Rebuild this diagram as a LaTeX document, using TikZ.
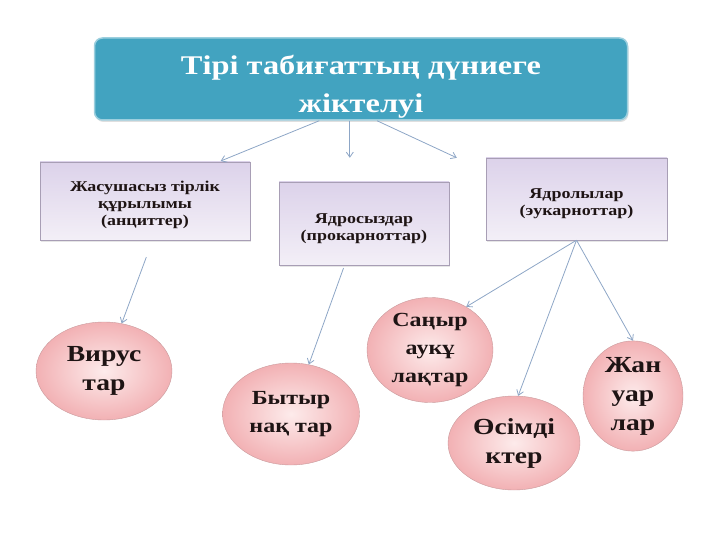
\documentclass[tikz,border=0pt]{standalone}
\usepackage{fontspec}
\setmainfont{Liberation Serif}[FakeStretch=1.2]
\usepackage{xcolor}
\usepackage{tikz}
\usetikzlibrary{arrows.meta, shapes.geometric, shadows, calc}

\definecolor{titlefill}{HTML}{42A3C0}
\definecolor{titleline}{HTML}{9CCFDE}
\definecolor{boxtop}{HTML}{DCD2EA}
\definecolor{boxbot}{HTML}{F3EFF7}
\definecolor{boxline}{HTML}{A89EB5}
\definecolor{ellout}{HTML}{F2B1B4}
\definecolor{ellin}{HTML}{FDEBEB}
\definecolor{ellline}{HTML}{C99A9C}
\definecolor{arrcol}{HTML}{8DA6C6}
\definecolor{inktext}{HTML}{1E1414}

% taller first line, to push a node's text down a little
\newcommand{\tallstrut}[1]{\rule{0pt}{#1}}

\begin{document}
\begin{tikzpicture}[x=1pt, y=-1pt,
    titlebox/.style={draw=titleline, line width=1.5pt, rounded corners=8pt,
                     fill=titlefill, text=white, align=center, inner sep=0pt,
                     minimum width=533pt, minimum height=82pt,
                     font=\fontsize{27}{38}\selectfont\bfseries,
                     drop shadow={opacity=0.25, shadow xshift=1pt, shadow yshift=-2pt}},
    kind/.style={draw=boxline, top color=boxtop, bottom color=boxbot,
                 align=center, inner sep=0pt, text=inktext,
                 font=\fontsize{15}{17}\selectfont\bfseries,
                 drop shadow={opacity=0.2, shadow xshift=1pt, shadow yshift=-2pt}},
    group/.style={draw=ellline, ellipse, inner color=ellin, outer color=ellout,
                  align=center, inner sep=0pt, text=inktext,
                  font=\fontsize{23}{29}\selectfont\bfseries},
    small/.style={font=\fontsize{20}{28}\selectfont\bfseries},
    arr/.style={-{Straight Barb[length=5pt, width=7pt]}, arrcol, line width=0.8pt},
  ]
  \useasboundingbox (0,0) rectangle (720,540);

  % title
  \node[titlebox] (title) at (361,79)
    {\tallstrut{34pt}Тірі табиғаттың дүниеге\\жіктелуі};

  % three kinds
  \node[kind, minimum width=210pt, minimum height=78pt] (b1) at (145,201)
    {\tallstrut{19pt}Жасушасыз тірлік\\құрылымы\\(анциттер)};
  \node[kind, minimum width=170pt, minimum height=83pt] (b2) at (364,223.5)
    {\tallstrut{20pt}Ядросыздар\\(прокарноттар)};
  \node[kind, minimum width=181pt, minimum height=82pt] (b3) at (576.5,199)
    {\tallstrut{20pt}Ядролылар\\(эукарноттар)};
  \draw[arr, shorten >=2pt] (title.-135) -- (b1.28);
  \draw[arr, shorten >=24pt] (title.-105) -- (title.-105 |- b2.north);
  \draw[arr] (title.-69) -- ([xshift=-29pt]b3.north west);

  % groups
  \node[group, minimum width=136pt, minimum height=98pt]  (virus)  at (104,371) {Вирус\\тар};
  \node[group, small, minimum width=137pt, minimum height=102pt] (bytyr)  at (291,414) {Бытыр\\нақ тар};
  \node[group, small, minimum width=126pt, minimum height=105pt] (sanyr)  at (430,350) {Саңыр\\аукұ\\лақтар};
  \node[group, minimum width=132pt, minimum height=94pt]  (osimdi) at (514,443) {Өсімді\\ктер};
  \node[group, minimum width=100pt, minimum height=105pt] (jan)    at (633,396) {Жан\\уар\\лар};
  \draw[arr, shorten <=18pt] (b1.-79) -- (virus);
  \draw[arr, shorten <=3pt] (b2.-115) -- (bytyr);
  \draw[arr] (b3.south) -- (sanyr.50);
  \draw[arr] (b3.south) -- (osimdi.85);
  \draw[arr] (b3.south) -- (jan.north);
\end{tikzpicture}
\end{document}
